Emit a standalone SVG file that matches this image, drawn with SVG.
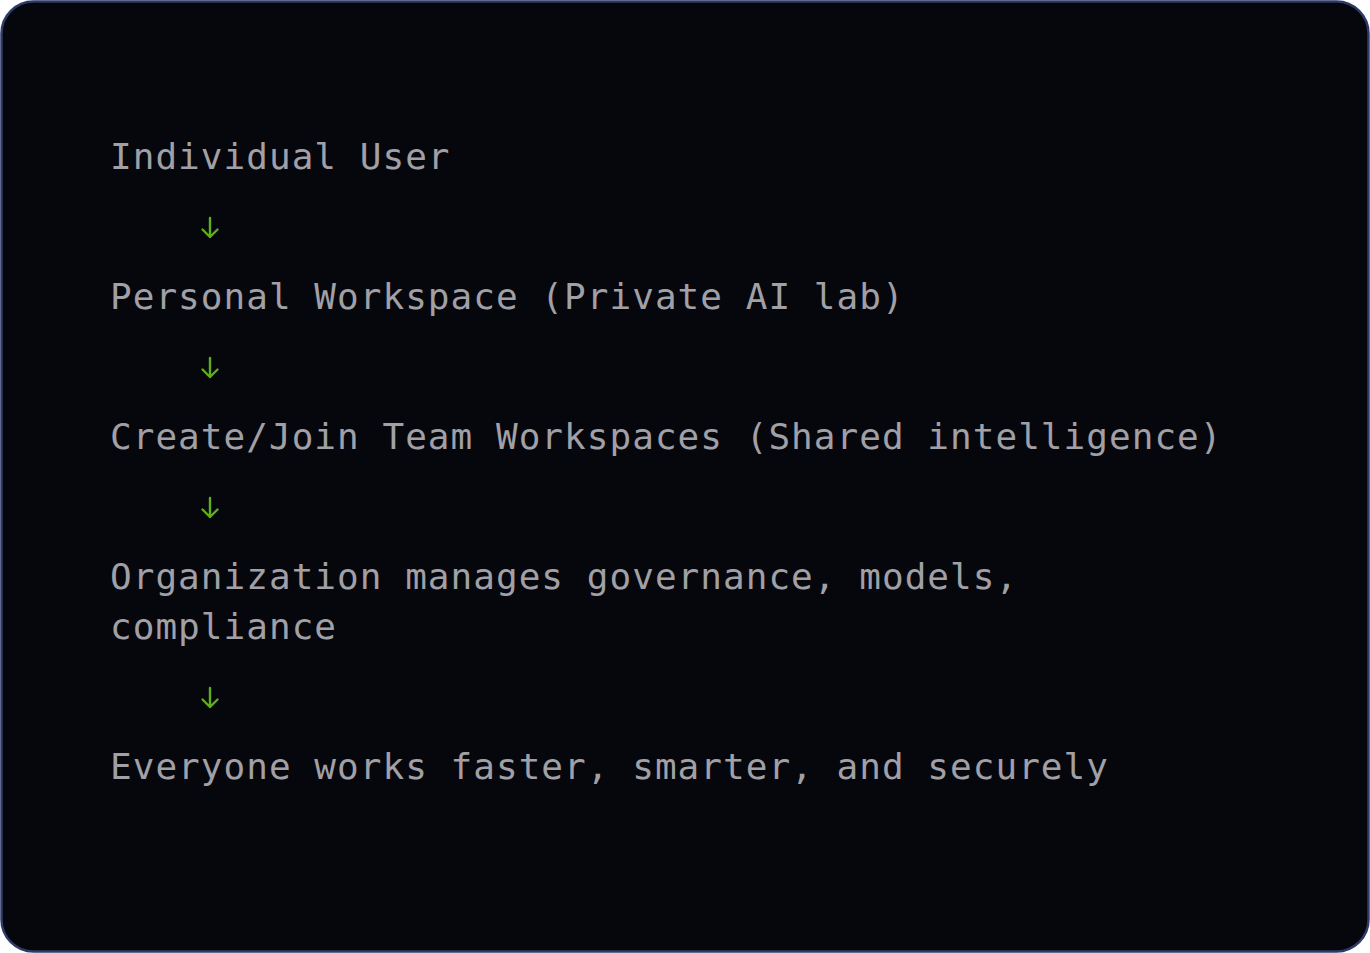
<svg xmlns="http://www.w3.org/2000/svg" width="1370" height="953" viewBox="0 0 1370 953">
<style>
.t{font-family:"DejaVu Sans Mono","Liberation Mono",monospace;font-size:36px;letter-spacing:1.03px;fill:#a0a0a6;}
.a{fill:none;stroke:#5fae1a;stroke-width:2.4;stroke-linecap:round;stroke-linejoin:round;}
</style>
<defs>
<path id="arr" class="a" d="M0,-10 V9 M-7.5,1.5 L0,9 L7.5,1.5"/>
</defs>
<rect x="1.5" y="1.5" width="1367" height="950" rx="32" ry="32" fill="#06070c" stroke="#2e3b66" stroke-width="2.5"/>
<g id="node-user"><text class="t" x="110" y="169">Individual User</text></g>
<g id="node-personal"><text class="t" x="110" y="309">Personal Workspace (Private AI lab)</text></g>
<g id="node-team"><text class="t" x="110" y="449">Create/Join Team Workspaces (Shared intelligence)</text></g>
<g id="node-org"><text class="t" x="110" y="589">Organization manages governance, models,</text><text class="t" x="110" y="639">compliance</text></g>
<g id="node-everyone"><text class="t" x="110" y="779">Everyone works faster, smarter, and securely</text></g>
<g id="connectors">
<use href="#arr" x="210" y="228"/>
<use href="#arr" x="210" y="368"/>
<use href="#arr" x="210" y="508"/>
<use href="#arr" x="210" y="698"/>
</g>
</svg>
